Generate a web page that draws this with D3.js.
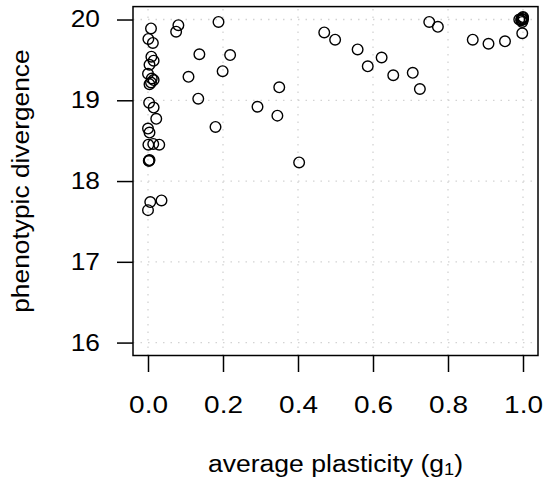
<!DOCTYPE html>
<html lang="en">
<head>
  <meta charset="UTF-8">
  <title>phenotypic divergence vs plasticity</title>
  <script src="https://d3js.org/d3.v7.min.js"></script>
  <style>
    html, body { margin: 0; padding: 0; background: #fff; }
    svg { display: block; font-family: "Liberation Sans", Arial, sans-serif; }
    .axis text { font-size: 23.3px; fill: #000; }
    .axis line { stroke: #000; stroke-width: 1.5; }
  </style>
</head>
<body>
<svg id="canvas" width="544" height="481"></svg>
<script>
  // values
  let plasticity = [
    0.008, 0.001, 0.013, 0.009, 0.015, 0.004, 0.000, 0.010, 0.015, 0.004,
    0.008, 0.003, 0.015, 0.022, 0.000, 0.004, 0.001, 0.014, 0.030, 0.002,
    0.003, 0.004, 0.036, 0.006, 0.000,
    0.081, 0.075, 0.188, 0.137, 0.219, 0.199, 0.108, 0.134, 0.292, 0.180,
    0.350, 0.345, 0.403, 0.470, 0.499, 0.559, 0.586, 0.623, 0.654, 0.706,
    0.725, 0.750, 0.773, 0.866, 0.908, 0.952, 0.998,
    0.990, 0.995, 1.000, 1.000, 0.998, 1.000, 0.996
  ]
  let divergence = [
    19.89, 19.76, 19.71, 19.54, 19.49, 19.44, 19.33, 19.27, 19.25, 19.20,
    19.22, 18.97, 18.91, 18.77, 18.65, 18.60, 18.45, 18.46, 18.45, 18.25,
    18.25, 18.26, 17.76, 17.74, 17.64,
    19.93, 19.85, 19.97, 19.57, 19.56, 19.36, 19.29, 19.02, 18.92, 18.67,
    19.16, 18.81, 18.23, 19.84, 19.75, 19.63, 19.42, 19.53, 19.31, 19.34,
    19.14, 19.97, 19.91, 19.75, 19.70, 19.73, 19.83,
    20.00, 19.99, 20.02, 20.00, 19.97, 20.03, 20.01
  ]
  let xTicks = [0, 0.2, 0.4, 0.6, 0.8, 1.0]
  let yTicks = [16, 17, 18, 19, 20]

  let canvas = d3.select('#canvas')

  // plot box like R: 4% padding on each side of the limits
  let boxL = 133, boxR = 538, boxT = 6.6, boxB = 355.5
  let x = d3.scaleLinear().domain([-0.04, 1.04]).range([boxL, boxR])
  let y = d3.scaleLinear().domain([15.84, 20.16]).range([boxB, boxT])

  // the reference font runs wider than Liberation Sans, so stretch it a bit
  let stretch = (sel, f) => sel.each(function () {
    let w = this.getComputedTextLength()
    d3.select(this).attr('textLength', w * f).attr('lengthAdjust', 'spacingAndGlyphs')
  })

  // dotted grid at the ticks
  let grid = canvas.append('g')
    .attr('stroke', '#d3d3d3')
    .attr('stroke-width', 1.3)
    .attr('stroke-dasharray', '1.5,6')
  grid.selectAll('.gx').data(xTicks).enter().append('line')
    .attr('x1', d => x(d)).attr('x2', d => x(d))
    .attr('y1', boxB).attr('y2', boxT)
  grid.selectAll('.gy').data(yTicks).enter().append('line')
    .attr('x1', boxL).attr('x2', boxR)
    .attr('y1', d => y(d)).attr('y2', d => y(d))

  // axes
  let xAxis = canvas.append('g').attr('class', 'axis')
    .attr('transform', `translate(0,${boxB})`)
    .call(d3.axisBottom(x).tickValues(xTicks).tickFormat(d3.format('.1f'))
      .tickSize(16.5).tickPadding(24.5))
  xAxis.select('.domain').remove()

  let yAxis = canvas.append('g').attr('class', 'axis')
    .attr('transform', `translate(${boxL},0)`)
    .call(d3.axisLeft(y).tickValues(yTicks).tickFormat(d3.format('d'))
      .tickSize(16).tickPadding(17))
  yAxis.select('.domain').remove()

  canvas.selectAll('.axis').attr('font-family', null).attr('font-size', null)
  stretch(xAxis.selectAll('text'), 1.2)
  stretch(yAxis.selectAll('text'), 1.13)

  // box
  canvas.append('rect')
    .attr('x', boxL).attr('y', boxT)
    .attr('width', boxR - boxL).attr('height', boxB - boxT)
    .attr('fill', 'none').attr('stroke', '#000').attr('stroke-width', 1.5)

  // points
  canvas.append('g').selectAll('circle')
    .data(plasticity)
    .enter()
    .append('circle')
    .attr('cx', (d, i) => x(d))
    .attr('cy', (d, i) => y(divergence[i]))
    .attr('r', 5.3)
    .attr('fill', 'none')
    .attr('stroke', '#000')
    .attr('stroke-width', 1.4)

  // axis titles
  let xt = canvas.append('text')
    .attr('x', (boxL + boxR) / 2).attr('y', 471.5)
    .attr('text-anchor', 'middle').attr('font-size', 23.3)
  xt.append('tspan').text('average plasticity (g')
  xt.append('tspan').attr('font-size', 16).attr('dy', 3).text('1')
  xt.append('tspan').attr('dy', -3).text(')')
  stretch(xt, 1.14)

  let yt = canvas.append('text')
    .attr('transform', `translate(29.3,${(boxT + boxB) / 2}) rotate(-90)`)
    .attr('text-anchor', 'middle').attr('font-size', 23.3)
    .text('phenotypic divergence')
  stretch(yt, 1.13)
</script>
</body>
</html>
